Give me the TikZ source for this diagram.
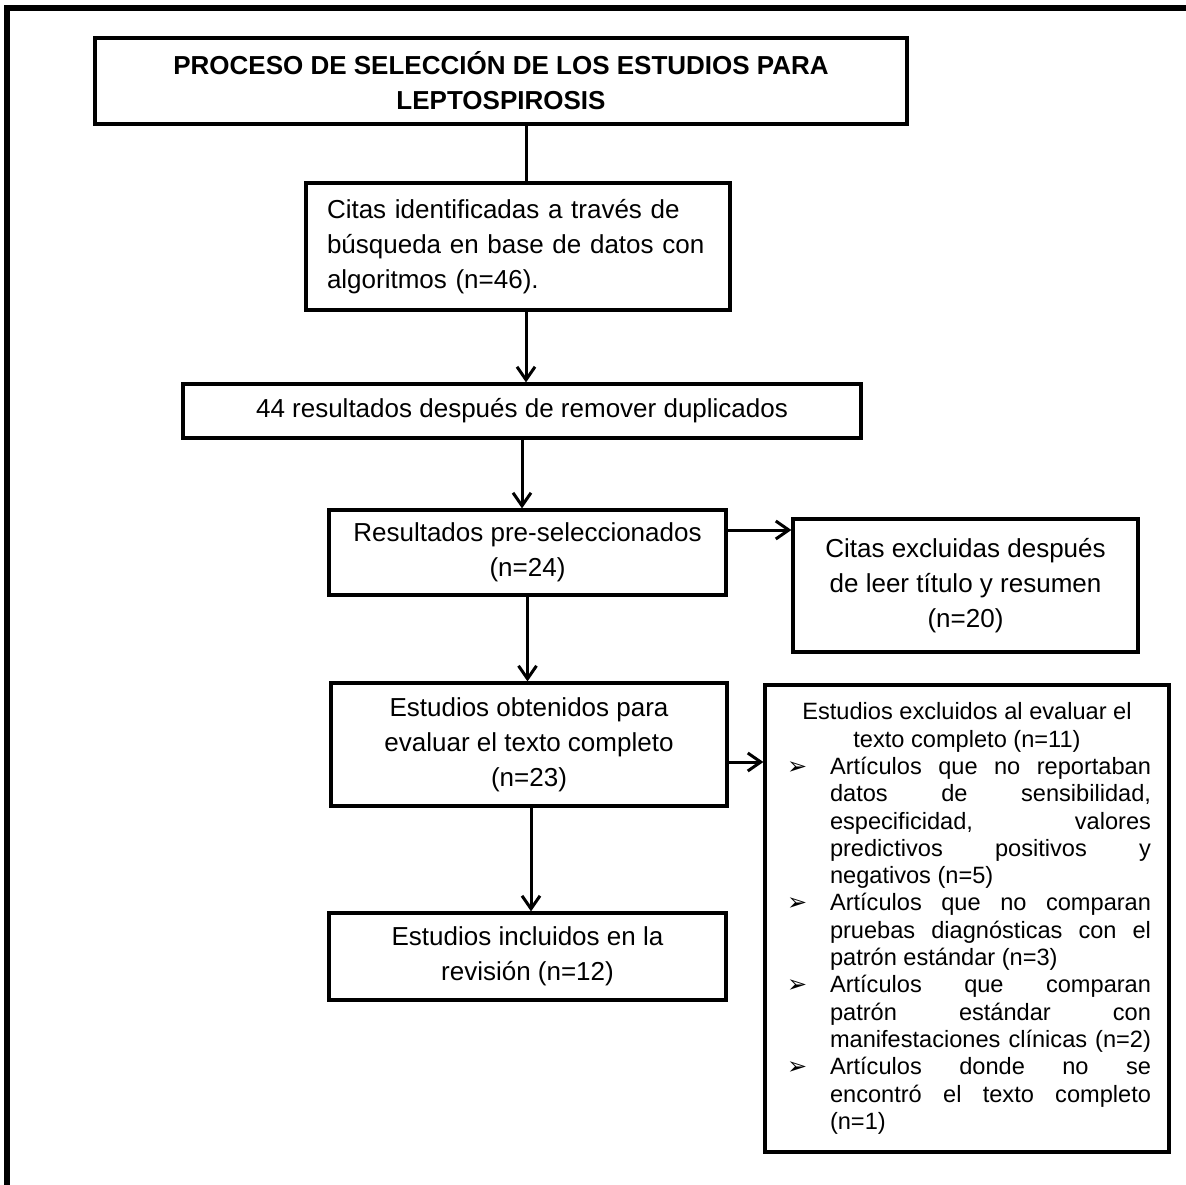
\documentclass[tikz,border=0pt]{standalone}
\usepackage{fontspec}
\setmainfont{Liberation Sans}
\newfontfamily\dejavu{DejaVu Sans}
\usetikzlibrary{arrows.meta}

\newlength{\sangria}\setlength{\sangria}{23.5pt}
\newlength{\anchoitem}\setlength{\anchoitem}{160.5pt}
\newcommand{\vineta}[1]{\makebox[\sangria][l]{\hspace*{2pt}{\dejavu\fontsize{12}{12}\selectfont ➢}}\makebox[\anchoitem][s]{#1}\\}
\newcommand{\renglon}[1]{\hspace*{\sangria}\makebox[\anchoitem][s]{#1}\\}
\newcommand{\ultimo}[1]{\hspace*{\sangria}#1}

\begin{document}
\begin{tikzpicture}[x=0.5pt,y=-0.5pt,
		caja/.style={draw,line width=1.6pt,inner sep=0pt,align=center,font=\fontsize{13}{17.5}\selectfont},
		flecha/.style={line width=1.5pt,-{Straight Barb[length=6.5pt,width=9pt]}},
		linea/.style={line width=1.5pt}]
	\useasboundingbox (0,0) rectangle (1186,1184);
	\begin{scope}
		\clip (0,0) rectangle (1186,1184);
		\draw[line width=2.6pt] (7,1220) -- (7,8) -- (1220,8);
	\end{scope}
	\node[caja,minimum width=406pt,minimum height=43pt,font=\bfseries\fontsize{13}{17.5}\selectfont] (titulo) at (501,81) {PROCESO DE SELECCIÓN DE LOS ESTUDIOS PARA\\LEPTOSPIROSIS};
	\node[caja,minimum width=212pt,minimum height=63.5pt,text width=191pt,align=left] (citas) at (518,246.5) {Citas identificadas a través de\\búsqueda en base de datos con\\algoritmos (n=46).};
	\node[caja,minimum width=339pt,minimum height=27pt] (dup) at (522,411) {44 resultados después de remover duplicados};
	\node[caja,minimum width=198.5pt,minimum height=42.5pt] (presel) at (527.5,552.5) {Resultados pre-seleccionados\\(n=24)};
	\node[caja,minimum width=172.5pt,minimum height=66.5pt] (excl1) at (965.5,585.5) {Citas excluidas después\\de leer título y resumen\\(n=20)};
	\node[caja,minimum width=198pt,minimum height=61.5pt] (texto) at (529,744.5) {Estudios obtenidos para\\evaluar el texto completo\\(n=23)};
	\node[caja,minimum width=198.5pt,minimum height=43.5pt] (incl) at (527.5,956.5) {Estudios incluidos en la\\revisión (n=12)};
	\node[caja,minimum width=202pt,minimum height=233.5pt,font=\fontsize{11.8}{13.65}\selectfont] (excl2) at (967,918.5) {%
		\begin{minipage}{184pt}
			{\centering Estudios excluidos al evaluar el\\texto completo (n=11)\par}
			\vineta{Artículos que no reportaban}
			\renglon{datos de sensibilidad,}
			\renglon{especificidad, valores}
			\renglon{predictivos positivos y}
			\ultimo{negativos (n=5)}\\
			\vineta{Artículos que no comparan}
			\renglon{pruebas diagnósticas con el}
			\ultimo{patrón estándar (n=3)}\\
			\vineta{Artículos que comparan}
			\renglon{patrón estándar con}
			\renglon{manifestaciones clínicas (n=2)}
			\vineta{Artículos donde no se}
			\renglon{encontró el texto completo}
			\ultimo{(n=1)}
		\end{minipage}};
	% puntos de salida de los conectores
	\coordinate (s0) at ([xshift=12.5pt]titulo.south);
	\coordinate (s1) at ([xshift=4pt]citas.south);
	\coordinate (s2) at ([yshift=11.25pt]presel.east);
	\coordinate (s3) at ([yshift=-8.75pt]texto.east);
	\coordinate (s4) at ([xshift=1pt]texto.south);
	\draw[linea] (s0) -- (s0 |- citas.north);
	\draw[flecha] (s1) -- (s1 |- dup.north);
	\draw[flecha] (dup.south) -- (dup.south |- presel.north);
	\draw[flecha] (s2) -- (s2 -| excl1.west);
	\draw[flecha] (presel.south) -- (presel.south |- texto.north);
	\draw[flecha] (s3) -- (s3 -| excl2.west);
	\draw[flecha] (s4) -- (s4 |- incl.north);
\end{tikzpicture}
\end{document}
